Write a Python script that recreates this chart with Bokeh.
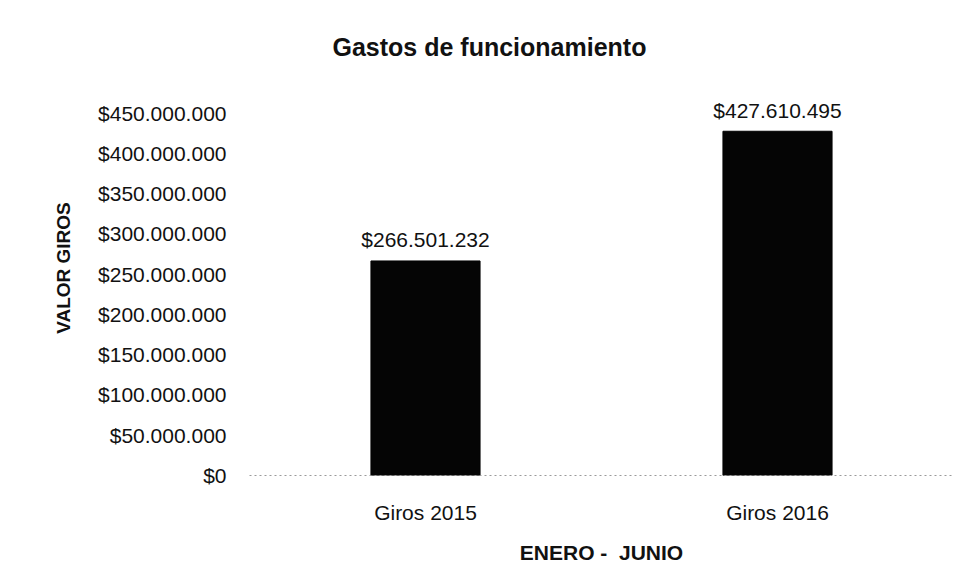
from bokeh.plotting import figure
from bokeh.models import ColumnDataSource, FactorRange, Range1d, FixedTicker, Title
from bokeh.core.properties import value
from bokeh.embed import file_html
from bokeh.resources import INLINE

categories = ["Giros 2015", "Giros 2016"]
values = [266501232, 427610495]
value_labels = ["$266.501.232", "$427.610.495"]
tick_values = [0, 50000000, 100000000, 150000000, 200000000, 250000000,
               300000000, 350000000, 400000000, 450000000]
tick_labels = ["$0", "$50.000.000", "$100.000.000", "$150.000.000", "$200.000.000",
               "$250.000.000", "$300.000.000", "$350.000.000", "$400.000.000",
               "$450.000.000"]

FONT = "Liberation Sans"

src = ColumnDataSource(dict(cat=categories, val=values, lab=value_labels))

p = figure(width=954, height=566, output_backend="svg", toolbar_location=None,
           x_range=FactorRange(*categories, range_padding=0.0),
           y_range=Range1d(0, 515500000),
           min_border_left=249, min_border_right=1, min_border_top=60,
           min_border_bottom=89)

p.vbar(x="cat", top="val", width=0.31, source=src, fill_color="#050505",
       line_color="#050505")
p.text(x="cat", y="val", text="lab", source=src, text_align="center",
       text_baseline="middle", y_offset=-21, text_font=value(FONT),
       text_font_size="21px", text_color="#111111")

t = Title(text="Gastos de funcionamiento", align="left", offset=83,
          text_font=FONT, text_font_size="25px", text_font_style="bold",
          text_color="#111111", standoff=0)
p.add_layout(t, "above")

p.outline_line_color = None
p.xgrid.grid_line_color = None
p.ygrid.grid_line_color = None
p.background_fill_color = "white"
p.border_fill_color = "white"

ya = p.yaxis[0]
ya.ticker = FixedTicker(ticks=tick_values)
ya.major_label_overrides = {v: l for v, l in zip(tick_values, tick_labels)}
ya.axis_line_color = None
ya.major_tick_line_color = None
ya.minor_tick_line_color = None
ya.major_tick_out = 0
ya.major_label_standoff = 23
ya.major_label_text_font = FONT
ya.major_label_text_font_size = "21px"
ya.major_label_text_color = "#111111"
ya.axis_label = "VALOR GIROS"
ya.axis_label_text_font = FONT
ya.axis_label_text_font_size = "19px"
ya.axis_label_text_font_style = "bold"
ya.axis_label_text_color = "#111111"
ya.axis_label_standoff = 21

xa = p.xaxis[0]
xa.axis_line_color = "#9a9a9a"
xa.axis_line_dash = "2 3"
xa.axis_line_width = 1
xa.major_tick_line_color = None
xa.minor_tick_line_color = None
xa.major_tick_out = 0
xa.major_label_standoff = 25
xa.major_label_text_font = FONT
xa.major_label_text_font_size = "21px"
xa.major_label_text_color = "#111111"
xa.axis_label = "ENERO -\u00a0 JUNIO"
xa.axis_label_text_font = FONT
xa.axis_label_text_font_size = "21px"
xa.axis_label_text_font_style = "bold"
xa.axis_label_text_color = "#111111"
xa.axis_label_standoff = 14

open("out.html", "w").write(file_html(p, INLINE))
